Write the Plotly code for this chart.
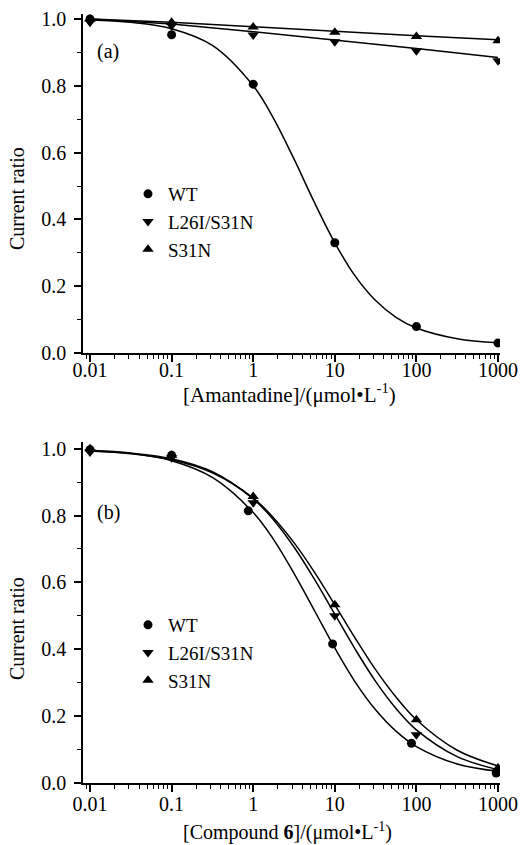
import plotly.graph_objects as go

# ---------------- data ----------------
conc = [0.01, 0.1, 1, 10, 100, 1000]
tick_vals = [0.01, 0.1, 1, 10, 100, 1000]
tick_text = ["0.01", "0.1", "1", "10", "100", "1000"]
series_names = ["WT", "L26I/S31N", "S31N"]

# Panel (a): Amantadine - measured points
a_wt = [1.0, 0.953, 0.805, 0.330, 0.079, 0.030]
a_l26i = [0.99, 0.98, 0.952, 0.932, 0.905, 0.875]
a_s31n = [1.0, 0.99, 0.976, 0.96, 0.948, 0.935]

# Panel (a): fitted curves
fit_x = [0.01, 0.0316, 0.1, 0.316, 1, 1.78, 3.16, 5.62, 10, 17.8, 31.6, 56.2, 100, 316, 1000]
a_wt_fit = [0.997, 0.990, 0.971, 0.921, 0.800, 0.702, 0.581, 0.451, 0.330, 0.230, 0.157, 0.107, 0.075, 0.043, 0.031]
a_l26i_fit = [1.0, 0.985, 0.962, 0.938, 0.912, 0.885]
a_s31n_fit = [1.0, 0.99, 0.977, 0.963, 0.950, 0.938]

# Panel (b): Compound 6 - measured points
b_wt_x = [0.01, 0.1, 0.87, 9.4, 87, 950]
b_wt = [0.997, 0.98, 0.814, 0.416, 0.119, 0.030]
b_l26i = [0.99, 0.973, 0.838, 0.50, 0.144, 0.034]
b_s31n = [1.0, 0.98, 0.857, 0.533, 0.189, 0.045]

# Panel (b): fitted curves
b_wt_fit = [0.994, 0.986, 0.964, 0.914, 0.809, 0.728, 0.627, 0.516, 0.404, 0.302, 0.219, 0.155, 0.109, 0.057, 0.035]
b_l26i_fit = [0.995, 0.987, 0.970, 0.931, 0.850, 0.787, 0.706, 0.610, 0.505, 0.400, 0.304, 0.223, 0.159, 0.079, 0.040]
b_s31n_fit = [0.993, 0.985, 0.967, 0.928, 0.852, 0.793, 0.719, 0.631, 0.533, 0.433, 0.339, 0.257, 0.189, 0.098, 0.051]

# ---------------- figure ----------------
W, H = 520, 845
FONT = "Liberation Serif"
FS = 20
LFS = 19
symbols = ["circle", "triangle-down", "triangle-up"]
msizes = [9, 10, 10]

fig = go.Figure()

def add_curve(x, y, xa, ya, shape="spline"):
    fig.add_trace(go.Scatter(x=x, y=y, mode="lines", xaxis=xa, yaxis=ya,
                             line=dict(color="black", width=1.5, shape=shape, smoothing=1.0),
                             showlegend=False, hoverinfo="skip"))

def add_points(x, y, i, xa, ya, legend):
    fig.add_trace(go.Scatter(x=x, y=y, mode="markers", xaxis=xa, yaxis=ya,
                             name=series_names[i], legend=legend,
                             marker=dict(symbol=symbols[i], size=msizes[i], color="black",
                                         line=dict(width=0))))

# panel (a)
add_curve(fit_x, a_wt_fit, "x", "y")
add_curve(conc, a_l26i_fit, "x", "y", shape="linear")
add_curve(conc, a_s31n_fit, "x", "y", shape="linear")
add_points(conc, a_wt, 0, "x", "y", "legend")
add_points(conc, a_l26i, 1, "x", "y", "legend")
add_points(conc, a_s31n, 2, "x", "y", "legend")

# panel (b)
add_curve(fit_x, b_wt_fit, "x2", "y2")
add_curve(fit_x, b_l26i_fit, "x2", "y2")
add_curve(fit_x, b_s31n_fit, "x2", "y2")
add_points(b_wt_x, b_wt, 0, "x2", "y2", "legend2")
add_points(conc, b_l26i, 1, "x2", "y2", "legend2")
add_points(conc, b_s31n, 2, "x2", "y2", "legend2")

xdom = [83 / W, 500 / W]
ydom_a = [1 - 353 / H, 1 - 14 / H]
ydom_b = [1 - 783 / H, 1 - 442 / H]

common = dict(showline=True, linecolor="black", linewidth=1.5, ticks="outside",
              ticklen=7, tickwidth=1.5, tickcolor="black", showgrid=False,
              zeroline=False, automargin=False,
              tickfont=dict(family=FONT, size=FS, color="black"))

def xaxis(anchor, standoff):
    return dict(common, type="log", range=[-2.086, 3.0245], domain=xdom, anchor=anchor,
                tickmode="array", tickvals=tick_vals, ticktext=tick_text,
                ticklabelstandoff=standoff,
                minor=dict(ticks="outside", ticklen=4, tickwidth=1.2, tickcolor="black",
                           dtick="D1", showgrid=False))

def yaxis(anchor, dom, top):
    return dict(common, range=[0, top], domain=dom, anchor=anchor, dtick=0.2, tick0=0,
                tickformat=".1f", ticklabelstandoff=4,
                minor=dict(ticks="outside", ticklen=4, tickwidth=1.2, tickcolor="black",
                           dtick=0.1, tick0=0, showgrid=False))

legend_common = dict(xanchor="left", yanchor="top", bgcolor="rgba(0,0,0,0)",
                     font=dict(family=FONT, size=LFS, color="black"), borderwidth=0,
                     tracegroupgap=0)

def ann(text, x, y, size=FS, angle=0):
    return dict(text=text, x=x / W, y=1 - y / H, xref="paper", yref="paper",
                xanchor="center", yanchor="middle", textangle=angle,
                showarrow=False, font=dict(family=FONT, size=size, color="black"))

fig.update_layout(
    width=W, height=H,
    margin=dict(l=0, r=0, t=0, b=0, autoexpand=False),
    paper_bgcolor="white", plot_bgcolor="white",
    font=dict(family=FONT, size=FS, color="black"),
    xaxis=xaxis("y", -9), yaxis=yaxis("x", ydom_a, 1.015),
    xaxis2=xaxis("y2", -5), yaxis2=yaxis("x2", ydom_b, 1.02),
    legend=dict(legend_common, x=128 / W, y=1 - 175 / H),
    legend2=dict(legend_common, x=128 / W, y=1 - 606 / H),
    annotations=[
        ann("(a)", 108, 51),
        ann("(b)", 108, 512),
        ann("Current ratio", 17, 199, angle=-90),
        ann("Current ratio", 17, 629, angle=-90),
        ann("[Amantadine]/(\u03bcmol\u2022L<sup>-1</sup>)", 289, 393, size=21),
        ann("[Compound <b>6</b>]/(\u03bcmol\u2022L<sup>-1</sup>)", 287, 831, size=20),
    ],
)

fig.write_html("out.html", config={"displayModeBar": False},
               post_script="document.body.style.margin='0px';")
